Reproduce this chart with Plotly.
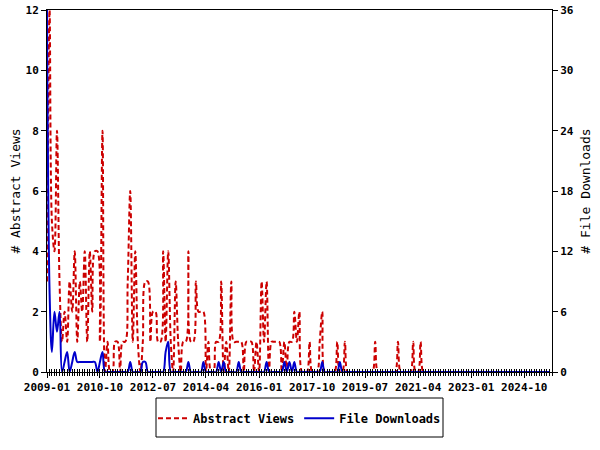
import plotly.graph_objects as go
import pandas as pd

months = pd.date_range("2009-01-01", "2025-08-01", freq="MS")
n = len(months)

views_known = {
    0: 3, 1: 12, 2: 5, 3: 4, 4: 8, 5: 3, 6: 1, 7: 2, 8: 1, 9: 3, 10: 2, 11: 4, 12: 1,
    13: 3, 14: 2, 15: 4, 16: 1, 17: 4, 18: 2, 19: 4, 20: 4, 21: 1, 22: 8, 23: 0, 24: 1,
    25: 0, 26: 0, 27: 1, 28: 1, 29: 0, 30: 1, 31: 1, 32: 3, 33: 6, 34: 1, 35: 4, 36: 1,
    37: 0, 38: 1, 39: 3, 40: 3, 41: 1, 42: 2, 43: 2, 44: 1, 45: 1, 46: 4, 47: 1, 48: 4,
    49: 1, 50: 0, 51: 3, 52: 1, 53: 0, 54: 1, 55: 1, 56: 4, 57: 1, 58: 1, 59: 3, 60: 2,
    61: 2, 62: 2, 63: 0, 64: 1, 65: 0, 66: 0, 67: 1, 68: 1, 69: 3, 70: 0, 71: 1, 72: 0,
    73: 3, 74: 1, 75: 1, 76: 1, 77: 1, 78: 0, 79: 1, 80: 1, 81: 1, 82: 0, 83: 1, 84: 0,
    85: 3, 86: 1, 87: 3, 88: 0, 89: 1, 90: 1, 91: 1, 92: 1, 93: 0, 94: 1, 95: 0, 96: 1,
    97: 1, 98: 2, 99: 1, 100: 2, 101: 0, 102: 0, 103: 0, 104: 1, 105: 0, 106: 0, 107: 0,
    108: 1, 109: 2, 110: 0, 115: 1, 118: 1, 130: 1, 139: 1, 145: 1, 148: 1,
}
downloads_known = {
    0: 36, 1: 8, 2: 2, 3: 6, 4: 4, 5: 6, 6: 0, 7: 1, 8: 2, 9: 0, 10: 1, 11: 2,
    12: 1, 13: 1, 14: 1, 15: 1, 16: 1, 17: 1, 18: 1, 19: 1, 20: 0, 21: 1, 22: 2, 23: 0,
    33: 1, 38: 1, 39: 1, 47: 2, 48: 3, 56: 1, 62: 1, 68: 1, 70: 1, 76: 1, 87: 1,
    94: 1, 96: 1, 98: 1, 109: 1, 116: 1,
}
abstract_views = [views_known.get(i, 0) for i in range(n)]
file_downloads = [downloads_known.get(i, 0) for i in range(n)]

font_family = "DejaVu Sans Mono"
x_range = ["2009-01-01", "2025-09-01"]

fig = go.Figure()
fig.add_trace(go.Scatter(
    x=months, y=abstract_views, name="Abstract Views", mode="lines",
    line=dict(color="#cc0000", width=2, dash="5px,3px", shape="spline"),
    xaxis="x", yaxis="y"))
fig.add_trace(go.Scatter(
    x=months, y=file_downloads, name="File Downloads", mode="lines",
    line=dict(color="#0000cc", width=2, shape="spline"),
    xaxis="x2", yaxis="y2"))

tickfont = dict(family=font_family, size=11, weight="bold")

fig.update_layout(
    width=600, height=450,
    margin=dict(l=47, r=48, t=10, b=78, autoexpand=False),
    paper_bgcolor="white", plot_bgcolor="white",
    font=dict(family=font_family, color="black", size=12),
    showlegend=True,
    legend=dict(orientation="h", x=0.5, xanchor="center", y=-0.088, yanchor="top",
                borderwidth=0, bgcolor="rgba(0,0,0,0)",
                font=dict(family=font_family, size=12, weight="bold")),
    xaxis=dict(type="date", range=x_range,
               tick0="2009-01-01", dtick="M21", tickformat="%Y-%m",
               ticks="outside", ticklen=5, tickcolor="black",
               showline=True, linecolor="black", linewidth=1, mirror=True,
               showgrid=False, zeroline=False, automargin=False,
               tickfont=tickfont, ticklabeloverflow="allow",
               minor=dict(dtick="M1", ticks="outside", ticklen=3, tickcolor="black", showgrid=False)),
    xaxis2=dict(type="date", range=x_range, matches="x", overlaying="x", anchor="y2",
                side="bottom", tick0="2009-01-01", dtick="M21",
                ticks="inside", ticklen=3, tickcolor="black", showticklabels=False,
                showline=False, showgrid=False, zeroline=False, automargin=False,
                minor=dict(dtick="M1", ticks="inside", ticklen=3, tickcolor="black", showgrid=False)),
    yaxis=dict(range=[0, 12], dtick=2, ticks="outside", ticklen=5, tickcolor="black",
               showline=True, linecolor="black", linewidth=1,
               showgrid=False, zeroline=False, automargin=False,
               tickfont=tickfont, ticklabeloverflow="allow",
               title=dict(text="# Abstract Views", standoff=1,
                          font=dict(family=font_family, size=13))),
    yaxis2=dict(range=[0, 36], dtick=6, overlaying="y", side="right", anchor="x",
                ticks="outside", ticklen=5, tickcolor="black",
                showline=True, linecolor="black", linewidth=1,
                showgrid=False, zeroline=False, automargin=False,
                tickfont=tickfont, ticklabeloverflow="allow",
                title=dict(text="# File Downloads", standoff=8,
                           font=dict(family=font_family, size=13))),
    shapes=[dict(type="rect", xref="paper", yref="paper",
                 x0=(156 - 47) / 505, x1=(443 - 47) / 505,
                 y0=-(437 - 372) / 362, y1=-(398 - 372) / 362,
                 line=dict(color="black", width=1), fillcolor="rgba(0,0,0,0)")],
)

fig.write_html("out.html", config={"displayModeBar": False},
               post_script="document.body.style.margin='0px';")
